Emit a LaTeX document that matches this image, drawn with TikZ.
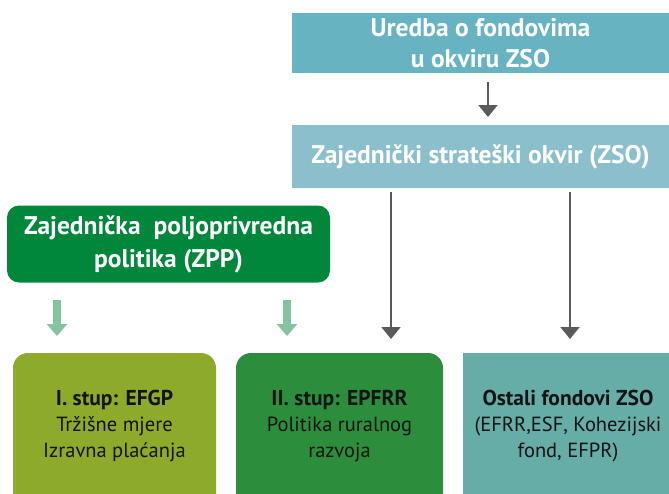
\documentclass[tikz,border=0pt]{standalone}
\usepackage{fontspec}
\setmainfont{PT Sans}
\usetikzlibrary{arrows.meta}
\definecolor{topblue}{HTML}{68B3C2}
\definecolor{midblue}{HTML}{8BBFCC}
\definecolor{zppgreen}{HTML}{00873C}
\definecolor{lightgreen}{HTML}{85C49E}
\definecolor{arrowgray}{HTML}{5A5A5A}
\definecolor{olive}{HTML}{8DAA2B}
\definecolor{midgreen}{HTML}{2C8E3C}
\definecolor{teal}{HTML}{66ADA8}
\definecolor{txtdark}{HTML}{141414}
\newcommand{\bhead}[1]{{\bfseries\fontsize{21.5}{26}\selectfont #1}}
\tikzset{
  headbox/.style={fill=#1, draw=none, text=white, align=center, inner sep=0pt,
    font=\bfseries\fontsize{25.5}{31}\selectfont},
  basebox/.style={fill=#1, draw=none, inner sep=0pt},
  btext/.style={text=txtdark, align=center, inner sep=0pt,
    font=\fontsize{20.5}{26}\selectfont},
  grayarrow/.style={draw=arrowgray, line width=2pt, -{Triangle[width=19pt,length=12pt]}},
  greenarrow/.style={draw=lightgreen, line width=8pt, -{Triangle[width=20pt,length=12pt]}},
}
\begin{document}
\begin{tikzpicture}[x=1pt,y=-1pt]
\useasboundingbox (0,0) rectangle (669,493);
\clip (0,0) rectangle (669,493);
% top boxes
\node[headbox=topblue, minimum width=377pt, minimum height=60pt] (reg) at (480.5,43)
  {Uredba o fondovima\\u okviru ZSO};
\node[headbox=midblue, minimum width=377pt, minimum height=63pt] (zso) at (480.5,156.5)
  {Zajednički strateški okvir (ZSO)};
\node[headbox=zppgreen, rounded corners=12pt, minimum width=323pt, minimum height=77pt,
  font=\bfseries\fontsize{25.5}{33}\selectfont] (zpp) at (168.5,244)
  {Zajednička\ \ poljoprivredna\\politika (ZPP)};
% bottom boxes
\node[basebox=olive, rounded corners=15pt, minimum width=203pt, minimum height=180pt] (b1) at (114.5,443) {};
\node[basebox=midgreen, rounded corners=15pt, minimum width=207pt, minimum height=180pt] (b2) at (339.5,443) {};
\node[basebox=teal, minimum width=210pt, minimum height=180pt] (b3) at (568,443) {};
\node[btext] (b1t) at ([yshift=-73pt]b1.north) {\bhead{I. stup: EFGP}\\Tržišne mjere\\Izravna plaćanja};
\node[btext] (b2t) at ([yshift=-73pt]b2.north) {\bhead{II. stup: EPFRR}\\Politika ruralnog\\razvoja};
\node[btext] (b3t) at ([yshift=-73pt]b3.north) {\bhead{Ostali fondovi ZSO}\\(EFRR,ESF, Kohezijski\\fond, EFPR)};
% arrow coordinates
\coordinate (a0s) at (488,82);  \coordinate (a0e) at (488,117);
\coordinate (a1s) at (391,192); \coordinate (a1e) at (391,339);
\coordinate (a2s) at (570,192); \coordinate (a2e) at (570,339);
\coordinate (g1s) at (57,300);  \coordinate (g1e) at (57,336);
\coordinate (g2s) at (287,300); \coordinate (g2e) at (287,336);
\draw[grayarrow] (a0s) -- (a0e);
\draw[grayarrow] (a1s) -- (a1e);
\draw[grayarrow] (a2s) -- (a2e);
\draw[greenarrow] (g1s) -- (g1e);
\draw[greenarrow] (g2s) -- (g2e);
\end{tikzpicture}
\end{document}
